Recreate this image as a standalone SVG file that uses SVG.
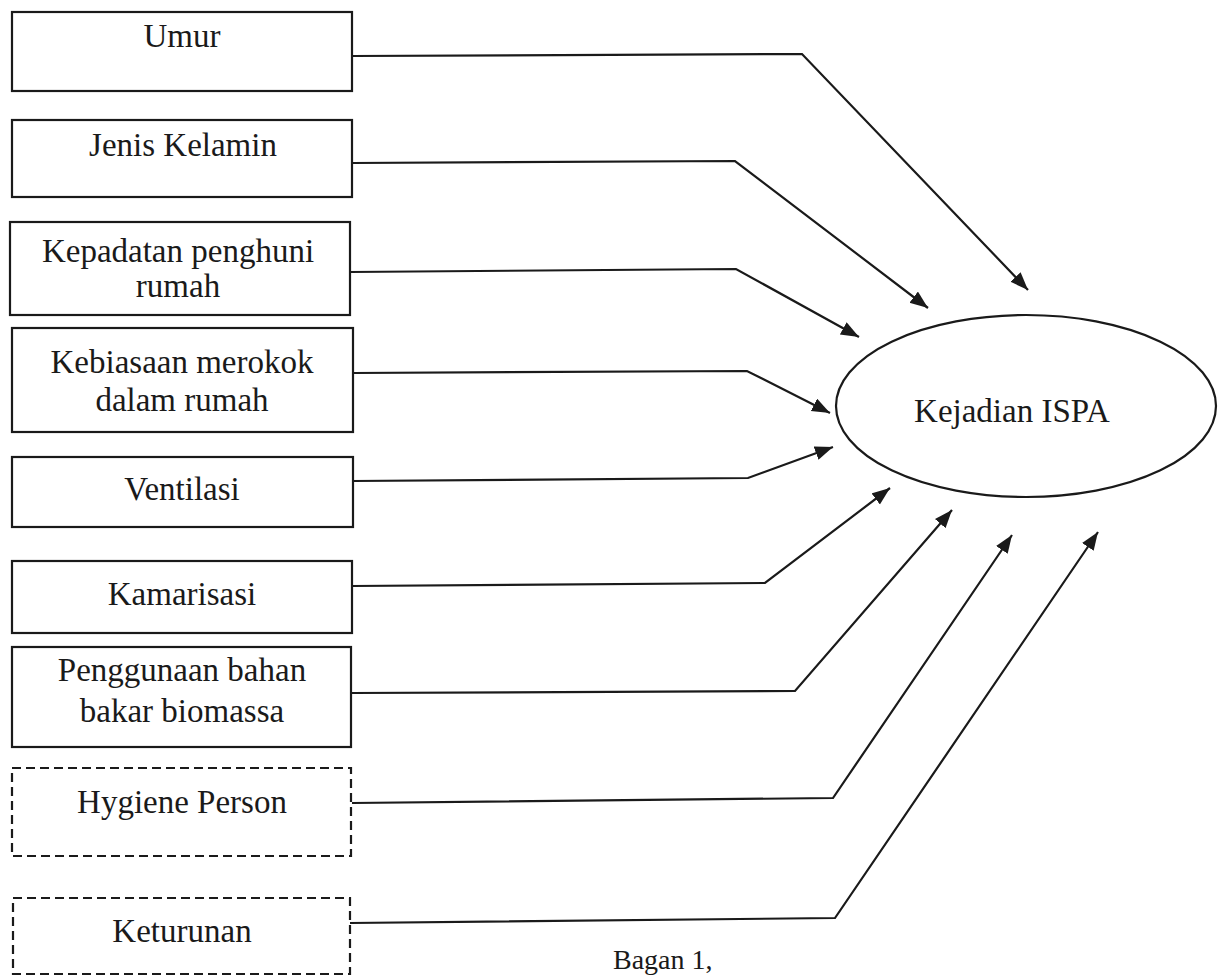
<svg xmlns="http://www.w3.org/2000/svg" width="1221" height="977" viewBox="0 0 1221 977">
<style>
  .box{fill:#fff;stroke:#1a1a1a;stroke-width:2.2}
  .dash{fill:#fff;stroke:#1a1a1a;stroke-width:2.2;stroke-dasharray:9 5}
  .lbl{font-family:"Liberation Serif","Times New Roman",serif;font-size:33px;fill:#1a1a1a;text-anchor:middle}
  .con{fill:none;stroke:#1a1a1a;stroke-width:2.2;stroke-linejoin:miter}
</style>
<defs>
  <marker id="ah" markerUnits="userSpaceOnUse" markerWidth="20" markerHeight="16" refX="18" refY="7" orient="auto">
    <path d="M0,0 L18,7 L0,14 z" fill="#1a1a1a"/>
  </marker>
</defs>
<rect width="1221" height="977" fill="#fff"/>

<g id="connectors">
  <polyline class="con" points="352,56 802,54 1028,290" marker-end="url(#ah)"/>
  <polyline class="con" points="352,163 735,161 928,308" marker-end="url(#ah)"/>
  <polyline class="con" points="350,272 736,269 859,337" marker-end="url(#ah)"/>
  <polyline class="con" points="353,373 747,371 830,413" marker-end="url(#ah)"/>
  <polyline class="con" points="353,481 748,478 833,447" marker-end="url(#ah)"/>
  <polyline class="con" points="352,586 765,583 890,488" marker-end="url(#ah)"/>
  <polyline class="con" points="352,693 795,691 952,510" marker-end="url(#ah)"/>
  <polyline class="con" points="352,803 833,798 1012,535" marker-end="url(#ah)"/>
  <polyline class="con" points="350,923 835,918 1098,532" marker-end="url(#ah)"/>
</g>

<g id="umur">
  <rect class="box" x="12" y="12" width="340" height="79"/>
  <text class="lbl" x="182" y="47">Umur</text>
</g>
<g id="jenis-kelamin">
  <rect class="box" x="12" y="120" width="340" height="77"/>
  <text class="lbl" x="183" y="156">Jenis Kelamin</text>
</g>
<g id="kepadatan">
  <rect class="box" x="10" y="222" width="340" height="93"/>
  <text class="lbl" x="178" y="262">Kepadatan penghuni</text>
  <text class="lbl" x="178" y="297">rumah</text>
</g>
<g id="kebiasaan">
  <rect class="box" x="12" y="328" width="341" height="104"/>
  <text class="lbl" x="182" y="373">Kebiasaan merokok</text>
  <text class="lbl" x="182" y="411">dalam rumah</text>
</g>
<g id="ventilasi">
  <rect class="box" x="12" y="457" width="341" height="70"/>
  <text class="lbl" x="182" y="500">Ventilasi</text>
</g>
<g id="kamarisasi">
  <rect class="box" x="12" y="561" width="340" height="72"/>
  <text class="lbl" x="182" y="605">Kamarisasi</text>
</g>
<g id="penggunaan">
  <rect class="box" x="12" y="647" width="339" height="100"/>
  <text class="lbl" x="182" y="681">Penggunaan bahan</text>
  <text class="lbl" x="182" y="722">bakar biomassa</text>
</g>
<g id="hygiene">
  <rect class="dash" x="12" y="768" width="339" height="88"/>
  <text class="lbl" x="182" y="813">Hygiene Person</text>
</g>
<g id="keturunan">
  <rect class="dash" x="13" y="898" width="337" height="76"/>
  <text class="lbl" x="182" y="942">Keturunan</text>
</g>
<g id="kejadian-ispa">
  <ellipse cx="1026" cy="406" rx="190" ry="91" fill="#fff" stroke="#1a1a1a" stroke-width="2.2"/>
  <text class="lbl" x="1012" y="422">Kejadian ISPA</text>
</g>
<g id="caption">
  <text class="lbl" x="613" y="969" style="text-anchor:start;font-size:28px">Bagan 1,</text>
</g>
</svg>
